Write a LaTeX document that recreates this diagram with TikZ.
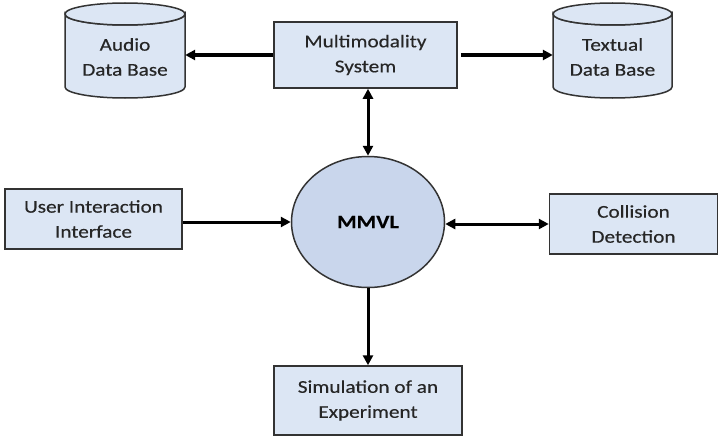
\documentclass[tikz,border=0pt]{standalone}
\usepackage{fontspec}
\setmainfont{Carlito}[FakeStretch=1.18,FakeBold=0.4]
\usetikzlibrary{arrows.meta,shapes.geometric}
\definecolor{boxfill}{HTML}{DCE6F4}
\definecolor{ovalfill}{HTML}{C9D6EC}
\definecolor{edgecol}{HTML}{333333}
\definecolor{txtcol}{HTML}{262626}
\begin{document}
\begin{tikzpicture}[x=1pt,y=-1pt,
  lbl/.style={align=center, text=txtcol, font=\fontsize{18}{25}\selectfont, inner sep=0pt},
  block/.style={lbl, draw=edgecol, line width=1.5pt, fill=boxfill},
  cyl/.style={draw=edgecol, line width=1.5pt, fill=boxfill},
  tip/.tip={Triangle[length=10pt,width=10pt]},
  link/.style={line width=3pt, -tip},
  both/.style={line width=3pt, tip-tip}]
\useasboundingbox (0,0) rectangle (719,436);

% database cylinders (body, then the visible top rim)
\foreach \cx/\rx in {125/60, 612.5/59.5}{
  \path[cyl] (\cx-\rx,14) -- (\cx-\rx,87) arc[start angle=180,end angle=360,x radius=\rx,y radius=-11]
        -- (\cx+\rx,14) arc[start angle=0,end angle=-180,x radius=\rx,y radius=-11] -- cycle;
  \draw[cyl] (\cx,14) ellipse[x radius=\rx,y radius=11];
}
\node[lbl, minimum width=120pt, minimum height=60pt] (audio) at (125,57) {Audio\\Data Base};
\node[lbl, minimum width=119pt, minimum height=60pt] (textual) at (612.5,57) {Textual\\Data Base};

\node[block, minimum width=183pt, minimum height=66pt] (multi) at (365.5,55) {Multimodality\\System};
\node[block, minimum width=177pt, minimum height=60pt] (user) at (93.5,219) {User Interaction\\Interface};
\node[block, minimum width=168pt, minimum height=60pt] (collision) at (633.5,224) {Collision\\Detection};
\node[block, minimum width=188pt, minimum height=69pt] (sim) at (368,400.5) {Simulation of an\\Experiment};
\node[ellipse, draw=edgecol, line width=1.5pt, fill=ovalfill, minimum width=153pt, minimum height=131pt,
      inner sep=0pt, text=black, font=\fontsize{19}{22}\bfseries\selectfont] (mmvl) at (368,222) {MMVL};

% connectors
\draw[link] (multi.west) -- (multi.west -| audio.east);
\draw[link, shorten <=3pt] (multi.east) -- (multi.east -| textual.west);
\draw[both] (mmvl.north) -- (mmvl.north |- multi.south);
\draw[link] (user.east |- mmvl.center) -- (mmvl.west);
\draw[both] (collision.west) -- (collision.west -| mmvl.east);
\draw[link] (mmvl.south) -- (sim.north);
\end{tikzpicture}
\end{document}
